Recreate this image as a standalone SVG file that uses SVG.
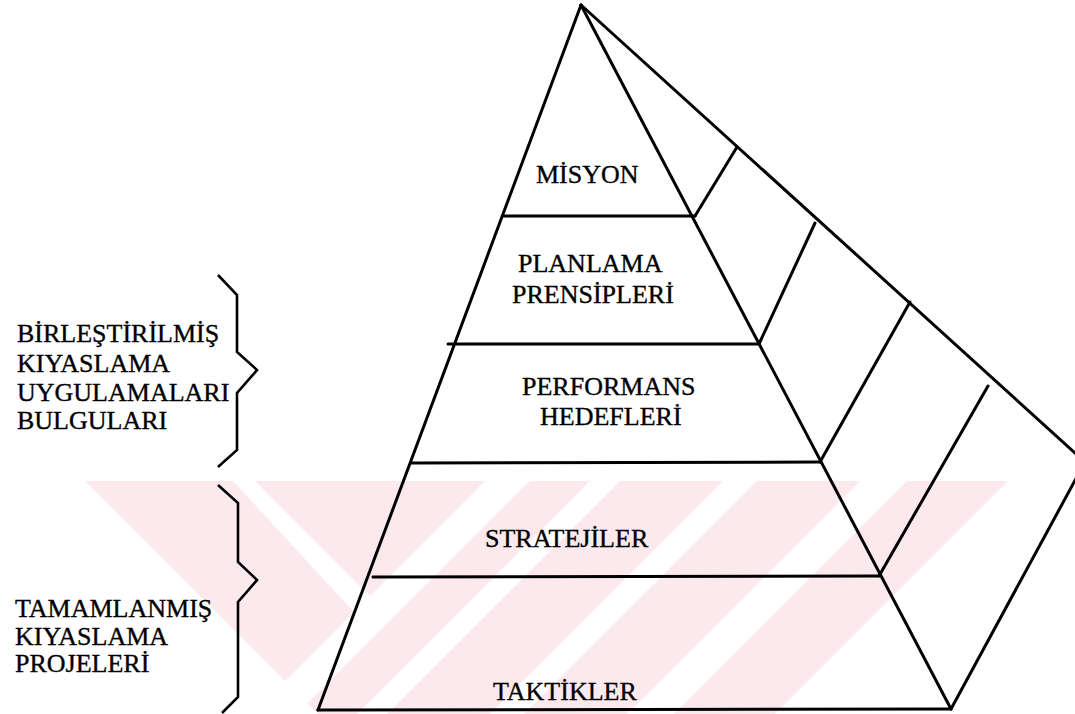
<svg xmlns="http://www.w3.org/2000/svg" width="1075" height="714" viewBox="0 0 1075 714">
<style>
.ln{stroke:#000;stroke-width:3;fill:none;stroke-linecap:round;stroke-linejoin:round}
.br{stroke:#000;stroke-width:2.6;fill:none;stroke-linejoin:miter}
.t{font-family:"Liberation Serif","Times New Roman",serif;font-size:26px;fill:#000;stroke:#000;stroke-width:0.35}
.wm{fill:#fce9ed}
.wg{fill:#fff}
</style>
<rect width="1075" height="714" fill="#fff"/>
<g id="watermark">
<polygon class="wm" points="85,481 1008,481 775,714 318,714"/>
<polygon class="wg" points="233,481 255,481 374,600 363,622"/>
<polygon class="wg" points="485,481 530,481 297,714 252,714"/>
<polygon class="wg" points="590,481 620,481 387,714 357,714"/>
<polygon class="wg" points="723,481 757,481 524,714 490,714"/>
<polygon class="wg" points="860,481 907,481 674,714 627,714"/>
</g>
<g id="connectors">
<line class="ln" x1="581" y1="5" x2="318" y2="710"/>
<line class="ln" x1="581" y1="5" x2="951" y2="709"/>
<line class="ln" x1="581" y1="5" x2="1085" y2="462"/>
<line class="ln" x1="951" y1="709" x2="1085" y2="462"/>
<line class="ln" x1="318" y1="710" x2="951" y2="709"/>
<line class="ln" x1="695" y1="216" x2="737" y2="147"/>
<line class="ln" x1="759" y1="344" x2="815" y2="223"/>
<line class="ln" x1="820" y1="462" x2="910" y2="302"/>
<line class="ln" x1="879" y1="576" x2="988" y2="386"/>
</g>
<g id="layer-misyon">
<line class="ln" x1="504" y1="216" x2="695" y2="216"/>
<text class="t" x="536" y="183">MİSYON</text>
</g>
<g id="layer-planlama">
<line class="ln" x1="448" y1="344" x2="759" y2="344"/>
<text class="t" x="518" y="272">PLANLAMA</text>
<text class="t" x="512" y="303">PRENSİPLERİ</text>
</g>
<g id="layer-performans">
<line class="ln" x1="412" y1="463" x2="820" y2="462"/>
<text class="t" x="522" y="395">PERFORMANS</text>
<text class="t" x="540" y="425">HEDEFLERİ</text>
</g>
<g id="layer-stratejiler">
<line class="ln" x1="373" y1="577" x2="879" y2="576"/>
<text class="t" x="485" y="547">STRATEJİLER</text>
</g>
<g id="layer-taktikler">
<text class="t" x="493" y="700">TAKTİKLER</text>
</g>
<g id="brace-upper">
<polyline class="br" points="218,275 237,295 237,352 257,370 237,393 237,450 218,467"/>
<text class="t" x="17" y="342">BİRLEŞTİRİLMİŞ</text>
<text class="t" x="17" y="372">KIYASLAMA</text>
<text class="t" x="17" y="401">UYGULAMALARI</text>
<text class="t" x="17" y="429">BULGULARI</text>
</g>
<g id="brace-lower">
<polyline class="br" points="218,485 238,503 238,562 257,580 238,602 238,697 222,713"/>
<text class="t" x="15" y="617">TAMAMLANMIŞ</text>
<text class="t" x="15" y="645">KIYASLAMA</text>
<text class="t" x="15" y="672">PROJELERİ</text>
</g>
</svg>
